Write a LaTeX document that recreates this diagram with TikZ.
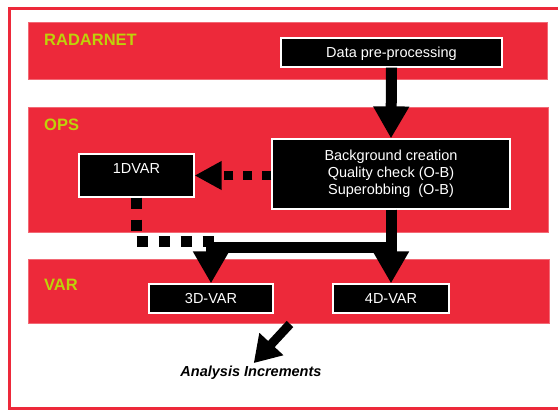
\documentclass[tikz,border=0pt]{standalone}
\usepackage{fontspec}
\setmainfont{Liberation Sans}
\usetikzlibrary{arrows.meta}
\definecolor{bandred}{RGB}{237,41,58}
\definecolor{lanegreen}{RGB}{190,210,10}

\begin{document}
\begin{tikzpicture}[x=1pt,y=-1pt,
    band/.style={fill=bandred,draw=bandred!70!white,line width=0.6pt,inner sep=0pt},
    lane/.style={text=lanegreen,anchor=west,inner sep=0pt,
        font=\fontsize{16.5}{19}\bfseries\selectfont},
    stage/.style={fill=black,draw=white,line width=1.2pt,text=white,inner sep=0pt,
        minimum height=29pt,font=\fontsize{14.5}{17}\selectfont},
    capline/.style={text height=10.4pt,text depth=0pt},
    bigarrow/.style={line width=11pt,-{Triangle[width=34pt,length=32pt]}},
    dotarrow/.style={line width=9pt,dash pattern=on 9pt off 10pt,
        -{Triangle[width=27pt,length=27pt]}},
    dotline/.style={line width=11pt,dash pattern=on 11pt off 11pt},
    outarrow/.style={line width=9pt,-{Triangle[width=31pt,length=26pt]}}]
    \useasboundingbox (0,0) rectangle (558,410);
    \clip (0,0) rectangle (558,410);
    \fill[white] (0,0) rectangle (558,410);
    \draw[bandred,line width=3pt] (9,8.5) rectangle (620,408);

    % bands
    \node[band,minimum width=519pt,minimum height=57pt] (radarnet) at (288,50.5) {};
    \node[band,minimum width=520pt,minimum height=125pt] (ops) at (288,169.5) {};
    \node[band,minimum width=521pt,minimum height=64pt] (var) at (288.5,291) {};
    \node[lane] (radarnetlabel) at (44,39.5) {RADARNET};
    \node[lane] (opslabel) at (44,125) {OPS};
    \node[lane] (varlabel) at (44,285) {VAR};

    % boxes
    \node[stage,capline,minimum width=221pt] (prep) at (391.5,52.5)
        {Data pre-processing};
    \node[stage,minimum width=238pt,minimum height=70pt,align=center] (bg)
        at (391,174)
        {Background creation\\Quality check (O-B)\\Superobbing\ \ (O-B)};
    \node[stage,minimum width=115pt,minimum height=43pt,text height=10.4pt,
        text depth=15pt] (onedvar) at (136.5,175.5) {1DVAR};
    \node[stage,capline,minimum width=124pt] (threed) at (211,298.5) {3D-VAR};
    \node[stage,capline,minimum width=116pt] (fourd) at (391,298.5) {4D-VAR};
    \node[inner sep=0pt,font=\fontsize{14.5}{17}\bfseries\itshape\selectfont]
        (incr) at (251,373) {Analysis Increments};

    \coordinate (split) at (211,247);
    \coordinate (merge) at (217,241.5);
    \coordinate (tail) at (290,324);

    % connectors
    \draw[bigarrow] (prep.south) -- (bg.north);
    \draw[dotarrow] (bg.west |- onedvar) -- (onedvar.east);
    \draw[dotline] (onedvar.south) |- (merge);
    \draw[bigarrow] (bg.south) -- (fourd.north);
    \draw[bigarrow] (bg.south) |- (split) -- (threed.north);
    \draw[outarrow,shorten >=4pt] (tail) -- (incr.north);
\end{tikzpicture}
\end{document}
